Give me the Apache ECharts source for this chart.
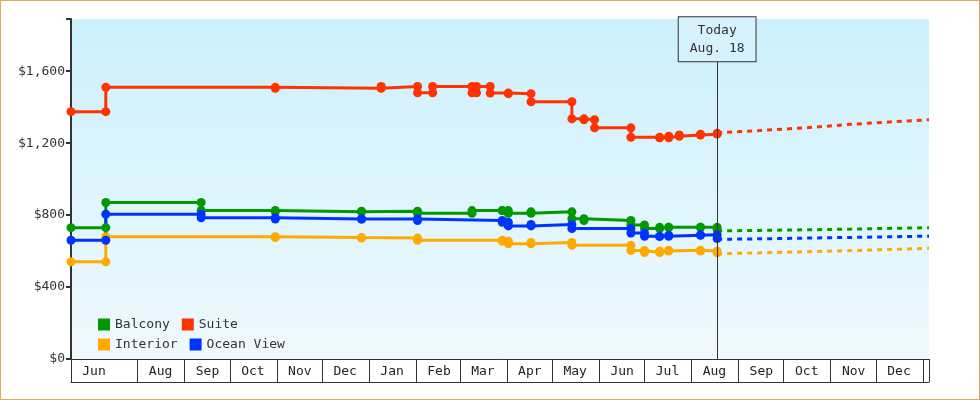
<!DOCTYPE html>
<html><head><meta charset="utf-8">
<script src="https://cdn.jsdelivr.net/npm/echarts@6/dist/echarts.min.js"></script>
<style>html,body{margin:0;padding:0;background:#fff}#c{width:980px;height:400px;box-sizing:border-box;border:1px solid #e8a860}</style>
</head><body><div id="c"></div>
<script>
const FONT = '"DejaVu Sans Mono", monospace';
const monthNames = ['Jan','Feb','Mar','Apr','May','Jun','Jul','Aug','Sep','Oct','Nov','Dec'];
const yTicks = [0, 400, 800, 1200, 1600];
const today = '2024-08-18';

const suiteDates = ['2023-06-18','2023-07-11','2023-10-31','2024-01-09','2024-02-02','2024-02-12','2024-03-09','2024-03-12','2024-03-21','2024-04-02','2024-04-17','2024-05-14','2024-05-22','2024-05-29','2024-06-22','2024-07-11','2024-07-17','2024-07-24','2024-08-07','2024-08-18'];
const suiteValues = [1375,1510,1505,1515,1480,1515,1480,1515,1478,1475,1430,1335,1330,1285,1232,1230,1238,1245,1250,1255];

const balconyDates = ['2023-06-18','2023-07-11','2023-09-12','2023-10-31','2023-12-27','2024-02-02','2024-03-09','2024-03-29','2024-04-02','2024-04-17','2024-05-14','2024-05-22','2024-06-22','2024-07-01','2024-07-11','2024-07-17','2024-08-07','2024-08-18'];
const balconyValues = [730,870,826,818,822,810,825,825,810,818,780,770,745,725,732,732,732,718];

const oceanDates = ['2023-06-18','2023-07-11','2023-09-12','2023-10-31','2023-12-27','2024-02-02','2024-03-29','2024-04-02','2024-04-17','2024-05-14','2024-06-22','2024-07-01','2024-07-11','2024-07-17','2024-08-07','2024-08-18'];
const oceanValues = [660,805,785,778,778,770,760,740,748,725,700,682,682,688,690,670];

const interiorDates = ['2023-06-18','2023-07-11','2023-10-31','2023-12-27','2024-02-02','2024-03-29','2024-04-02','2024-04-17','2024-05-14','2024-06-22','2024-07-01','2024-07-11','2024-07-17','2024-08-07','2024-08-18'];
const interiorValues = [540,680,675,672,660,655,640,648,632,603,592,600,605,600,590];

const futureDates = ['2024-08-18','2024-09-15','2024-10-15','2024-11-15','2024-12-15','2025-01-05'];
const suiteFuture = [1258,1270,1285,1305,1320,1330];
const balconyFuture = [712,715,718,722,727,730];
const oceanFuture = [665,668,672,676,680,683];
const interiorFuture = [585,590,596,603,610,615];

const COLORS = {Suite:'#ff3300', Balcony:'#009900', 'Ocean View':'#0033ff', Interior:'#ffaa00'};

function steps(dates, vals){
  const out=[];
  for(let i=0;i<dates.length;i++){
    if(i>0) out.push([dates[i], vals[i-1]]);
    out.push([dates[i], vals[i]]);
  }
  return out;
}
function hist(name, dates, vals){
  return {name, type:'line', data:steps(dates, vals), color:COLORS[name], symbol:'circle', symbolSize:9,
    lineStyle:{width:3}, itemStyle:{color:COLORS[name]}, z:3, animation:false};
}
function fut(name, dates, vals){
  return {name, type:'line', data:dates.map((d,i)=>[d, vals[i]]), color:COLORS[name], symbol:'none',
    lineStyle:{width:3, type:[5,5]}, z:2, animation:false};
}
const MS = 86400000;
const xMin = '2023-06-18', xMax = '2025-01-05';
const chart = echarts.init(document.getElementById('c'));
const suiteSeries = hist('Suite', suiteDates, suiteValues);
suiteSeries.markLine = {silent:true, symbol:'none', animation:false,
  lineStyle:{color:'#333', width:1, type:'solid'},
  label:{position:'end', distance:0, formatter:'Today\nAug. 18', fontFamily:FONT, fontSize:13, color:'#333',
    backgroundColor:'#d6f2fc', borderColor:'#333', borderWidth:1, padding:[4,11], lineHeight:18},
  data:[[{coord:[today,0]},{coord:[today,1655]}]]};
chart.setOption({
  animation:false,
  textStyle:{fontFamily:FONT},
  grid:{left:70, right:50, top:18, bottom:40, show:true, borderWidth:0,
    backgroundColor:new echarts.graphic.LinearGradient(0,0,0,1,[{offset:0,color:'#ccf0fc'},{offset:1,color:'#f0f9fe'}])},
  legend:[
    {data:['Balcony','Suite'], left:92, top:312, orient:'horizontal', icon:'rect', itemWidth:12, itemHeight:12, itemGap:12,
      textStyle:{fontFamily:FONT, fontSize:13, color:'#333', width:62}},
    {data:['Interior','Ocean View'], left:92, top:332, orient:'horizontal', icon:'rect', itemWidth:12, itemHeight:12, itemGap:12,
      textStyle:{fontFamily:FONT, fontSize:13, color:'#333', width:62}}
  ],
  xAxis:[{type:'time', min:xMin, max:xMax, minInterval:28*MS, maxInterval:31*MS, splitNumber:18,
    axisLine:{lineStyle:{color:'#333', width:1}},
    axisTick:{show:true, length:23, lineStyle:{color:'#333'}},
    minorTick:{show:false}, splitLine:{show:false},
    axisLabel:{margin:6, showMinLabel:true, showMaxLabel:true, hideOverlap:false,
      formatter:function(v){const d=new Date(v); if(d.getFullYear()>2024) return ''; return '{a|'+monthNames[d.getMonth()]+'}';},
      rich:{a:{fontFamily:FONT, fontSize:13, color:'#222', padding:[0,0,0,46]}}}},
   {type:'time', min:xMin, max:xMax, position:'bottom', offset:23,
    axisLine:{show:true, lineStyle:{color:'#333', width:1}}, axisTick:{show:false}, axisLabel:{show:false}, splitLine:{show:false}}],
  yAxis:{type:'value', min:0, max:1890, interval:400,
    axisLine:{show:true, lineStyle:{color:'#333', width:2}},
    axisTick:{show:true, length:5, lineStyle:{color:'#333', width:2}},
    splitLine:{show:false},
    axisLabel:{fontFamily:FONT, fontSize:13, color:'#333', margin:6,
      formatter:v=> yTicks.includes(v) ? '$'+v.toLocaleString('en-US') : ''}},
  series:[
    hist('Balcony', balconyDates, balconyValues),
    hist('Interior', interiorDates, interiorValues),
    hist('Ocean View', oceanDates, oceanValues),
    suiteSeries,
    fut('Balcony', futureDates, balconyFuture),
    fut('Interior', futureDates, interiorFuture),
    fut('Ocean View', futureDates, oceanFuture),
    fut('Suite', futureDates, suiteFuture)
  ]
});
</script></body></html>
